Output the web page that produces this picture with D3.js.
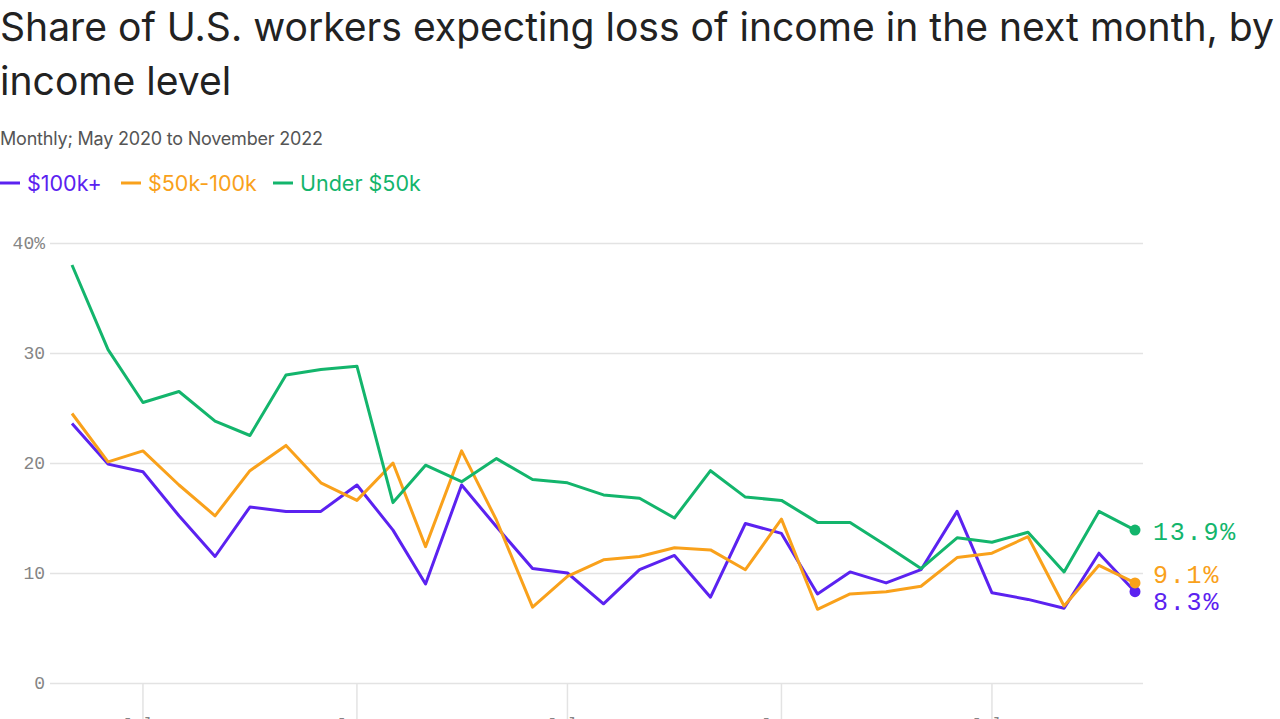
<!DOCTYPE html>
<html><head><meta charset="utf-8">
<script src="https://cdn.jsdelivr.net/npm/d3@7/dist/d3.min.js"></script>
<style>
html,body{margin:0;padding:0;background:#fff;}
svg{display:block;}
</style></head>
<body>
<svg id="chart" width="1280" height="719"></svg>
<script>
const months = ["2020-05","2020-06","2020-07","2020-08","2020-09","2020-10","2020-11","2020-12",
"2021-01","2021-02","2021-03","2021-04","2021-05","2021-06","2021-07","2021-08","2021-09","2021-10","2021-11","2021-12",
"2022-01","2022-02","2022-03","2022-04","2022-05","2022-06","2022-07","2022-08","2022-09","2022-10","2022-11"];
const high = [23.6,19.9,19.2,15.2,11.5,16.0,15.6,15.6,18.0,13.9,9.0,18.0,14.2,10.4,10.0,7.2,10.3,11.6,7.8,14.5,13.6,8.1,10.1,9.1,10.3,15.6,8.2,7.6,6.8,11.8,8.3];
const mid = [24.5,20.1,21.1,18.0,15.2,19.3,21.6,18.2,16.6,20.0,12.4,21.1,14.8,6.9,9.7,11.2,11.5,12.3,12.1,10.3,14.9,6.7,8.1,8.3,8.8,11.4,11.8,13.3,7.0,10.7,9.1];
const low = [38.0,30.3,25.5,26.5,23.8,22.5,28.0,28.5,28.8,16.4,19.8,18.3,20.4,18.5,18.2,17.1,16.8,15.0,19.3,16.9,16.6,14.6,14.6,12.5,10.4,13.2,12.8,13.7,10.1,15.6,13.9];
const seriesNames = ["$100k+","$50k-100k","Under $50k"];
const seriesColors = ["#5b22f0","#f9a11b","#13b56c"];
const yTicks = [0,10,20,30,40];
const xTickDates = ["2020-07","2021-01","2021-07","2022-01","2022-07"];
const xTickLabels = [["July","2020"],["Jan.","2021"],["July","2021"],["Jan.","2022"],["July","2022"]];
const endLabels = ["8.3%","9.1%","13.9%"];

const parse = d3.timeParse("%Y-%m");
const dates = months.map(parse);
const series = [high, mid, low];

const svg = d3.select("#chart");
const x = d3.scaleTime().domain([dates[0], dates[dates.length-1]]).range([72, 1135]);
const y = d3.scaleLinear().domain([0, 40]).range([683, 243]);

// Title
const title = svg.append("g").attr("font-family","Inter, 'Noto Sans', sans-serif").attr("fill","#222");
const t1 = title.append("text").attr("x",0).attr("y",41).attr("font-size",36)
  .text("Share of U.S. workers expecting loss of income in the next month, by");
const w = t1.node().getComputedTextLength();
const fs = 36 * 1274 / w;
t1.attr("font-size", fs);
title.append("text").attr("x",0).attr("y",95).attr("font-size",fs).text("income level");

svg.append("text").attr("x",0).attr("y",145).attr("font-family","Inter, 'Noto Sans', sans-serif")
  .attr("font-size",18).attr("fill","#555").attr("letter-spacing",-0.2)
  .text("Monthly; May 2020 to November 2022");

// Legend
const legendX = [0, 121, 273];
const lg = svg.append("g").attr("font-family","Inter, 'Noto Sans', sans-serif").attr("font-size",21.5);
seriesNames.forEach((n,i)=>{
  lg.append("line").attr("x1",legendX[i]).attr("x2",legendX[i]+20).attr("y1",183).attr("y2",183)
    .attr("stroke",seriesColors[i]).attr("stroke-width",3);
  lg.append("text").attr("x",legendX[i]+27).attr("y",191).attr("fill",seriesColors[i]).text(n);
});

// Y grid + labels
const yAxis = d3.axisLeft(y).tickValues(yTicks).tickSize(-(1143-50))
  .tickFormat(d => d===40 ? "40%" : String(d));
const ya = svg.append("g").attr("transform","translate(50,0)").call(yAxis);
ya.select(".domain").remove();
ya.selectAll(".tick line").attr("stroke","#e3e3e3").attr("stroke-width",1.5);
ya.selectAll(".tick text").attr("x",-5).attr("dy","0.32em")
  .attr("font-family","'Liberation Mono','DejaVu Sans Mono',monospace").attr("font-size",18).attr("fill","#858585");

// X ticks
const xa = svg.append("g");
const xt = xa.selectAll("g").data(xTickDates.map(parse)).join("g")
  .attr("transform", d => `translate(${x(d)},0)`);
xt.append("line").attr("y1",683).attr("y2",719).attr("stroke","#e3e3e3").attr("stroke-width",1.5);
xt.each(function(d,i){
  const t = d3.select(this).append("text").attr("text-anchor","middle")
    .attr("font-family","'Liberation Mono','DejaVu Sans Mono',monospace").attr("font-size",18).attr("fill","#858585");
  t.append("tspan").attr("x",0).attr("y",730).text(xTickLabels[i][0]);
  t.append("tspan").attr("x",0).attr("y",752).text(xTickLabels[i][1]);
});

// Lines
const line = d3.line().x((d,i)=>x(dates[i])).y(d=>y(d));
const drawOrder = [0,1,2];
drawOrder.forEach(i=>{
  svg.append("path").datum(series[i]).attr("d",line).attr("fill","none")
    .attr("stroke",seriesColors[i]).attr("stroke-width",3).attr("stroke-linejoin","round");
});
// End dots
const last = dates.length-1;
drawOrder.forEach(i=>{
  svg.append("circle").attr("cx",x(dates[last])).attr("cy",y(series[i][last])).attr("r",5.5)
    .attr("fill",seriesColors[i]);
});
// End labels
const labelY = [601, 574, 531];
drawOrder.forEach(i=>{
  svg.append("text").attr("x",x(dates[last])+18).attr("y",labelY[i]).attr("dy","0.35em")
    .attr("font-family","'Liberation Mono','DejaVu Sans Mono',monospace").attr("font-size",25)
    .attr("letter-spacing",1.8).attr("fill",seriesColors[i]).text(endLabels[i]);
});
</script>
</body></html>
